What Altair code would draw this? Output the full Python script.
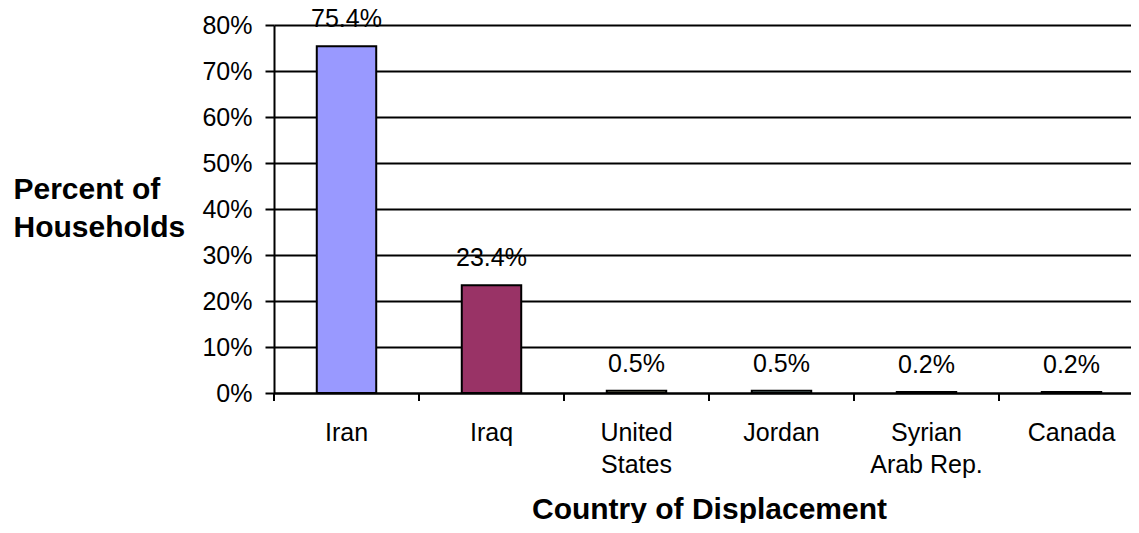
import altair as alt
import pandas as pd

countries = ["Iran", "Iraq", "United States", "Jordan", "Syrian Arab Rep.", "Canada"]
shares = [0.754, 0.234, 0.005, 0.005, 0.002, 0.002]
colors = ["#9999FF", "#993366", "#FFFFCC", "#CCFFFF", "#660066", "#FF8080"]
y_ticks = [0.0, 0.1, 0.2, 0.3, 0.4, 0.5, 0.6, 0.7, 0.8]

df = pd.DataFrame({"country": countries, "share": shares})

FONT = "Liberation Sans"
PLOT_H = 368
RANGE_W = 870
PAD_INNER = 0.59
X_SCALE = alt.Scale(range=[0, RANGE_W], paddingInner=PAD_INNER, paddingOuter=PAD_INNER / 2)
STEP = RANGE_W / len(countries)
TICK_SHIFT = -PAD_INNER / 2 * STEP  # from bar start back to category boundary

x_enc = alt.X(
    "country:N",
    sort=countries,
    scale=X_SCALE,
    axis=alt.Axis(
        title="Country of Displacement",
        titleFont=FONT, titleFontSize=30, titleFontWeight="bold", titleColor="black",
        titleX=435, titleY=125, titleAlign="center", titleBaseline="alphabetic",
        labelFont=FONT, labelFontSize=25, labelColor="black",
        labelAngle=0, labelBaseline="alphabetic", labelPadding=39, labelLineHeight=32,
        labelExpr="datum.value == 'United States' ? ['United', 'States'] : datum.value == 'Syrian Arab Rep.' ? ['Syrian', 'Arab Rep.'] : datum.label",
        tickSize=8, tickColor="black", tickWidth=2, tickOpacity=0,
        domainColor="black", domainWidth=2, grid=False,
    ),
)

y_enc = alt.Y(
    "share:Q",
    scale=alt.Scale(domain=[0, 0.8], nice=False),
    axis=alt.Axis(
        title=["Percent of", "Households"],
        titleFont=FONT, titleFontSize=30, titleFontWeight="bold", titleColor="black",
        titleAngle=0, titleAlign="left", titleBaseline="alphabetic",
        titleX=-261, titleY=173, titleLineHeight=38,
        values=y_ticks, format=".0%",
        labelFont=FONT, labelFontSize=25, labelColor="black", labelPadding=13,
        tickSize=9, tickColor="black", tickWidth=2,
        domainColor="black", domainWidth=2,
        grid=True, gridColor="black", gridWidth=2,
    ),
)

bars = alt.Chart(df).mark_bar(stroke="black", strokeWidth=2).encode(
    x=x_enc,
    y=y_enc,
    color=alt.Color("country:N", sort=countries,
                    scale=alt.Scale(domain=countries, range=colors), legend=None),
)

# category-boundary tick marks below the x axis
ticks = alt.Chart(df).mark_rule(color="black", strokeWidth=2, xOffset=TICK_SHIFT).encode(
    x=alt.X("country:N", sort=countries, bandPosition=0),
    y=alt.value(PLOT_H),
    y2=alt.value(PLOT_H + 8),
)

labels = alt.Chart(df).mark_text(
    dy=-19, baseline="alphabetic", fontSize=25, font=FONT, color="black"
).encode(
    x=alt.X("country:N", sort=countries),
    y=alt.Y("share:Q"),
    text=alt.Text("share:Q", format=".1%"),
)

chart = (bars + ticks + labels).properties(
    width=857, height=PLOT_H,
    autosize=alt.AutoSizeParams(type="none"),
    padding={"left": 266, "top": 17, "right": 0, "bottom": 130},
    background="white",
).configure_view(stroke=None)

chart.save("out.html", embed_options={"renderer": "svg", "actions": False})
